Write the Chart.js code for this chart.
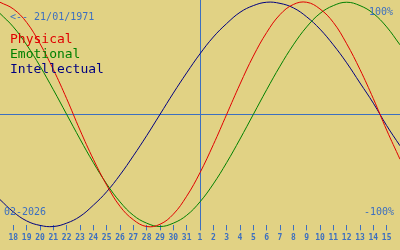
<!DOCTYPE html>
<html>
<head>
<meta charset="utf-8">
<script src="https://cdn.jsdelivr.net/npm/chart.js@4.4.1/dist/chart.umd.min.js"></script>
<style>
    html, body { margin: 0; padding: 0; background: #e1d284; }
    #wrap { position: relative; width: 400px; height: 250px; overflow: hidden; }
    .txt { position: absolute; font-family: "DejaVu Sans Mono", monospace; white-space: pre; }
    .small { font-size: 10px; line-height: 10px; color: #3c6fc0; }
    #legend { left: 10px; top: 31px; font-size: 13px; line-height: 15px; }
</style>
</head>
<body>
<div id="wrap">
    <canvas id="chart1" width="400" height="250"></canvas>
    <div class="txt small" style="left:10px; top:12px;">&lt;-- 21/01/1971</div>
    <div class="txt small" style="right:7px; top:7px;">100%</div>
    <div class="txt small" style="right:6px; top:207px;">-100%</div>
    <div class="txt small" style="left:4px; top:207px;">02-2026</div>
    <div class="txt" id="legend"><span style="color:#e00000">Physical</span>
<span style="color:#008000">Emotional</span>
<span style="color:#000080">Intellectual</span></div>
</div>
<script>
"use strict";

// day of month for each column (17 Jan .. 16 Feb)
var dayLabels = ['17', '18', '19', '20', '21', '22', '23', '24', '25', '26', '27', '28', '29', '30', '31',
    '1', '2', '3', '4', '5', '6', '7', '8', '9', '10', '11', '12', '13', '14', '15', '16'];

var physical = [1.00, 0.94, 0.82, 0.63, 0.40, 0.14, -0.14, -0.40, -0.63, -0.82, -0.94, -1.00, -0.98, -0.89, -0.73,
    -0.52, -0.27, 0.00, 0.27, 0.52, 0.73, 0.89, 0.98, 1.00, 0.94, 0.82, 0.63, 0.40, 0.14, -0.14, -0.40];

var emotional = [0.90, 0.78, 0.62, 0.43, 0.22, 0.00, -0.22, -0.43, -0.62, -0.78, -0.90, -0.97, -1.00, -0.97, -0.90,
    -0.78, -0.62, -0.43, -0.22, 0.00, 0.22, 0.43, 0.62, 0.78, 0.90, 0.97, 1.00, 0.97, 0.90, 0.78, 0.62];

var intellectual = [-0.76, -0.87, -0.95, -0.99, -1.00, -0.97, -0.91, -0.81, -0.69, -0.54, -0.37, -0.19, 0.00, 0.19, 0.37,
    0.54, 0.69, 0.81, 0.91, 0.97, 1.00, 0.99, 0.95, 0.87, 0.76, 0.62, 0.46, 0.28, 0.10, -0.10, -0.28];

var todayLabel = '1';
var blue = '#3c6fc0';

function series(label, data, color) {
    return {
        label: label,
        data: data,
        borderColor: color,
        backgroundColor: color,
        borderWidth: 1,
        pointRadius: 0,
        tension: 0.4,
        fill: false,
        clip: 4,
    };
}

function isEdge(index) {
    return index === 0 || index === dayLabels.length - 1;
}

var ctx1 = document.getElementById("chart1").getContext("2d");

window.bioChart = new Chart(ctx1, {
    type: "line",
    data: {
        labels: dayLabels,
        datasets: [
            series("Physical", physical, "#e00000"),
            series("Emotional", emotional, "#008000"),
            series("Intellectual", intellectual, "#000080"),
        ],
    },
    options: {
        responsive: false,
        animation: false,
        devicePixelRatio: 1,
        layout: {
            padding: { left: 0, right: 0, top: 0, bottom: 4 },
        },
        plugins: {
            legend: { display: false },
            tooltip: { enabled: false },
        },
        scales: {
            x: {
                type: "category",
                offset: false,
                border: { display: false },
                // no side padding, first and last days sit on the edges
                afterFit: function (axis) {
                    axis.paddingLeft = 0;
                    axis.paddingRight = 0;
                },
                grid: {
                    drawOnChartArea: true,
                    tickLength: 5,
                    tickColor: function (c) {
                        return isEdge(c.index) ? "transparent" : blue;
                    },
                    color: function (c) {
                        return dayLabels[c.index] === todayLabel ? blue : "transparent";
                    },
                },
                ticks: {
                    autoSkip: false,
                    maxRotation: 0,
                    padding: 3,
                    color: blue,
                    font: { family: "DejaVu Sans Mono", size: 8, weight: "bold" },
                    callback: function (value, index) {
                        return isEdge(index) ? "" : dayLabels[index];
                    },
                },
            },
            y: {
                min: -0.99,
                max: 1.02,
                border: { display: false },
                afterBuildTicks: function (axis) {
                    axis.ticks = [{ value: 0 }];
                },
                grid: {
                    drawTicks: false,
                    color: blue,
                },
                ticks: { display: false },
            },
        },
    },
});
</script>
</body>
</html>
